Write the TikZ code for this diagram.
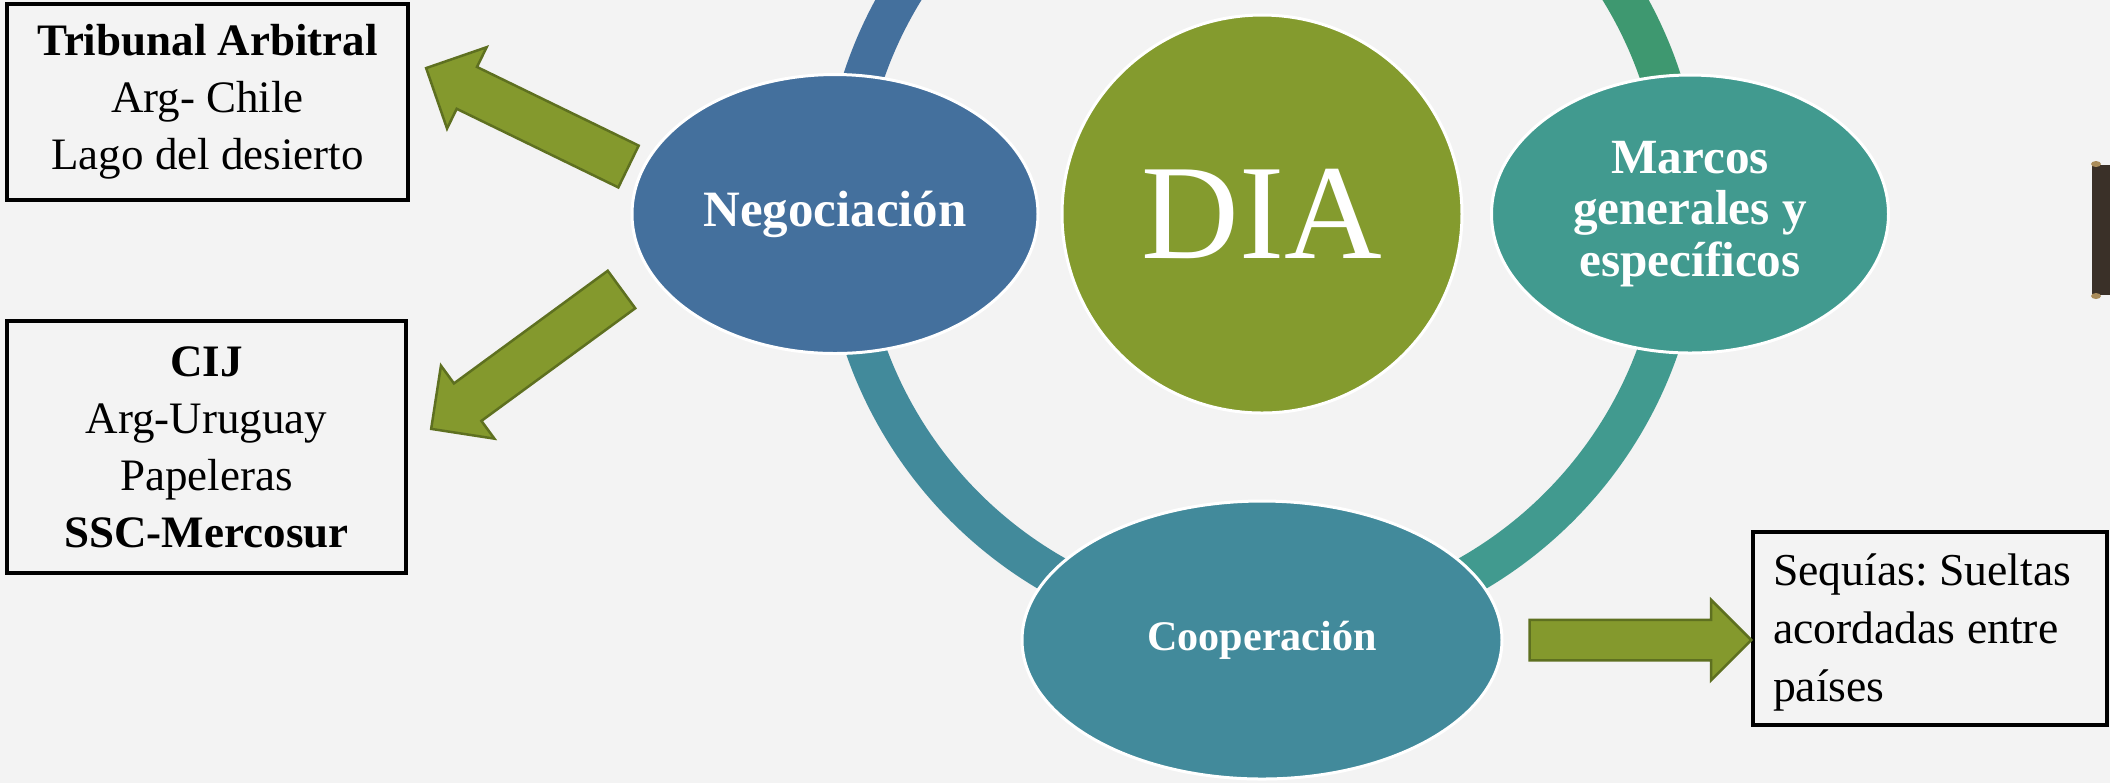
\documentclass[tikz,border=0pt]{standalone}
\usepackage{fontspec}
\setmainfont{Liberation Serif}
\usetikzlibrary{shapes.geometric,shapes.arrows,calc}
\frenchspacing
\definecolor{negblue}{RGB}{68,112,157}
\definecolor{diagreen}{RGB}{132,155,46}
\definecolor{marcteal}{RGB}{65,154,143}
\definecolor{coopteal}{RGB}{66,138,155}
\definecolor{ringgreen}{RGB}{62,152,112}
\definecolor{arrowgreen}{RGB}{132,153,45}
\definecolor{arrowdark}{RGB}{94,112,32}
\definecolor{paper}{RGB}{243,243,243}
\definecolor{scrolldark}{RGB}{58,48,40}
\definecolor{scrollcap}{RGB}{170,140,90}
\tikzset{
  ringseg/.style={line width=4mm},
  bubble/.style={ellipse,draw=white,line width=0.3mm,inner sep=0pt,text=white,align=center},
  infobox/.style={draw=black,line width=0.35mm,align=center,inner sep=0pt,
    font=\fontsize{12.8}{16.2}\selectfont},
  blockarrow/.style={single arrow,fill=arrowgreen,draw=arrowdark,line width=0.25mm,
    inner xsep=0pt,inner ysep=2.2mm,single arrow head extend=2.2mm,
    single arrow tip angle=90,outer sep=0pt},
}
% block arrow from #2 (tail) to #3 (tip)
\newcommand{\blockarrow}[3][]{%
  \path let \p1=(#2), \p2=(#3),
    \n1={atan2(\y2-\y1,\x2-\x1)}, \n2={veclen(\x2-\x1,\y2-\y1)} in
    node[blockarrow,#1,rotate=\n1,minimum height=\n2,anchor=tail] at (\p1) {};}

\begin{document}
\begin{tikzpicture}[x=0.1mm,y=-0.1mm]
  \useasboundingbox (0,0) rectangle (2110,783);
  \clip (0,0) rectangle (2110,783);
  \fill[paper] (0,0) rectangle (2110,783);
  % ring
  \coordinate (ringc) at (1262,210);
  \draw[ringseg,negblue] (ringc) ++(90:42mm) arc[start angle=90,end angle=180,radius=42mm];
  \draw[ringseg,coopteal] (ringc) ++(180:42mm) arc[start angle=180,end angle=270,radius=42mm];
  \draw[ringseg,marcteal] (ringc) ++(270:42mm) arc[start angle=270,end angle=360,radius=42mm];
  \draw[ringseg,ringgreen] (ringc) ++(0:42mm) arc[start angle=0,end angle=90,radius=42mm];
  % bubbles
  \node[bubble,fill=negblue,minimum width=40.6mm,minimum height=27.9mm,
    font=\fontsize{14.5}{17}\selectfont\bfseries] (neg) at (835,214) {Negociación};
  \node[bubble,fill=diagreen,minimum width=40mm,minimum height=39.8mm,
    font=\fontsize{38.5}{40}\selectfont] (dia) at (1262,214) {DIA};
  \node[bubble,fill=marcteal,minimum width=39.7mm,minimum height=27.8mm,
    font=\fontsize{14}{14.7}\selectfont\bfseries] (marcos) at (1690,214) {Marcos\\generales y\\específicos};
  \node[bubble,fill=coopteal,minimum width=48mm,minimum height=27.8mm,
    font=\fontsize{12}{14}\selectfont\bfseries] (coop) at (1262,640) {Cooperación};
  % boxes
  \node[infobox,minimum width=40.1mm,minimum height=19.6mm] (tribunal) at (207.5,102)
    {\textbf{Tribunal Arbitral}\\Arg- Chile\\Lago del desierto};
  \node[infobox,minimum width=39.9mm,minimum height=25.2mm] (cij) at (206.5,447)
    {\textbf{CIJ}\\Arg-Uruguay\\Papeleras\\\textbf{SSC-Mercosur}};
  \node[infobox,inner xsep=2mm,font=\fontsize{13}{16.6}\selectfont] (sequias) at (1930,628.5)
    {\parbox[c][19.3mm][t]{31.4mm}{\raggedright\rule{0pt}{5.3mm}Sequías: Sueltas\\acordadas entre\\países}};
  % arrows
  \coordinate (t1) at (628.5,166.5);
  \coordinate (h1) at (426,68);
  \coordinate (t2) at (621.5,289.5);
  \coordinate (h2) at (431,429);
  \blockarrow{t1}{h1}
  \blockarrow{t2}{h2}
  \blockarrow[inner ysep=1.9mm,single arrow head extend=2mm]{[xshift=2.6mm]coop.east}{sequias.west |- coop.east}
  % scroll handle at the edge
  \fill[scrolldark] (2092,165) rectangle (2110,295);
  \fill[scrollcap] (2096,164) ellipse[x radius=0.5mm,y radius=0.3mm];
  \fill[scrollcap] (2096,296) ellipse[x radius=0.5mm,y radius=0.3mm];
\end{tikzpicture}
\end{document}
